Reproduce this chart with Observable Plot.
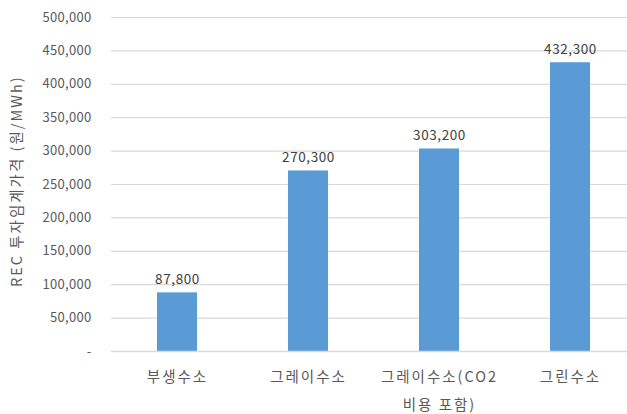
<!DOCTYPE html>
<html>
<head>
<meta charset="utf-8">
<script src="https://cdn.jsdelivr.net/npm/d3@7"></script>
<script src="https://cdn.jsdelivr.net/npm/@observablehq/plot@0.6"></script>
<style>
  html, body { margin: 0; padding: 0; background: #fff; }
  #chart { width: 627px; height: 414px; overflow: hidden; }
  svg { font-family: "Noto Sans CJK KR", "Noto Sans", sans-serif; }
  .xlab text { letter-spacing: 2px; }
  .ytitle text { letter-spacing: 2px; }
  .vlab text { letter-spacing: 0.6px; }
  .ylab text { letter-spacing: 0.3px; }
</style>
</head>
<body>
<div id="chart"></div>
<script>
const categories = ["부생수소", "그레이수소", "그레이수소(CO2\n비용 포함)", "그린수소"];
const values = [87800, 270300, 303200, 432300];
const yTicks = [0, 50000, 100000, 150000, 200000, 250000, 300000, 350000, 400000, 450000, 500000];
const yTitle = "REC 투자임계가격 (원/MWh)";

const data = categories.map((c, i) => ({category: c, value: values[i]}));
const fmt = d3.format(",");

const chart = Plot.plot({
  width: 627,
  height: 414,
  marginLeft: 111,
  marginRight: 0,
  marginTop: 17,
  marginBottom: 63,
  style: {fontFamily: '"Noto Sans CJK KR", "Noto Sans", sans-serif', background: "#fff"},
  x: {domain: categories, range: [110, 637], paddingInner: 0.695, paddingOuter: 0.3475, label: null},
  y: {domain: [0, 500000], label: null},
  marks: [
    Plot.ruleY(yTicks.filter(d => d > 0), {stroke: "#d9d9d9", strokeWidth: 1.2}),
    Plot.barY(data, {x: "category", y: "value", fill: "#5b9bd5"}),
    Plot.ruleY([0], {stroke: "#d9d9d9", strokeWidth: 1.5}),
    Plot.text(data, {x: "category", y: "value", text: d => fmt(d.value), lineAnchor: "bottom", dy: -9, fill: "#404040", fontSize: 13.5, className: "vlab"}),
    Plot.axisY({ticks: yTicks, tickFormat: d => d === 0 ? "-" : fmt(d), tickSize: 0, tickPadding: 20, fontSize: 13, fill: "#595959", label: null, className: "ylab"}),
    Plot.axisX({tickSize: 0, tickPadding: 11, fontSize: 14.5, fill: "#595959", lineHeight: 1.9, label: null, className: "xlab"}),
    Plot.text([yTitle], {frameAnchor: "left", textAnchor: "middle", dx: -94, y: 255000, rotate: -90, fontSize: 14.5, fill: "#595959", className: "ytitle"})
  ]
});
document.getElementById("chart").appendChild(chart);
</script>
</body>
</html>
